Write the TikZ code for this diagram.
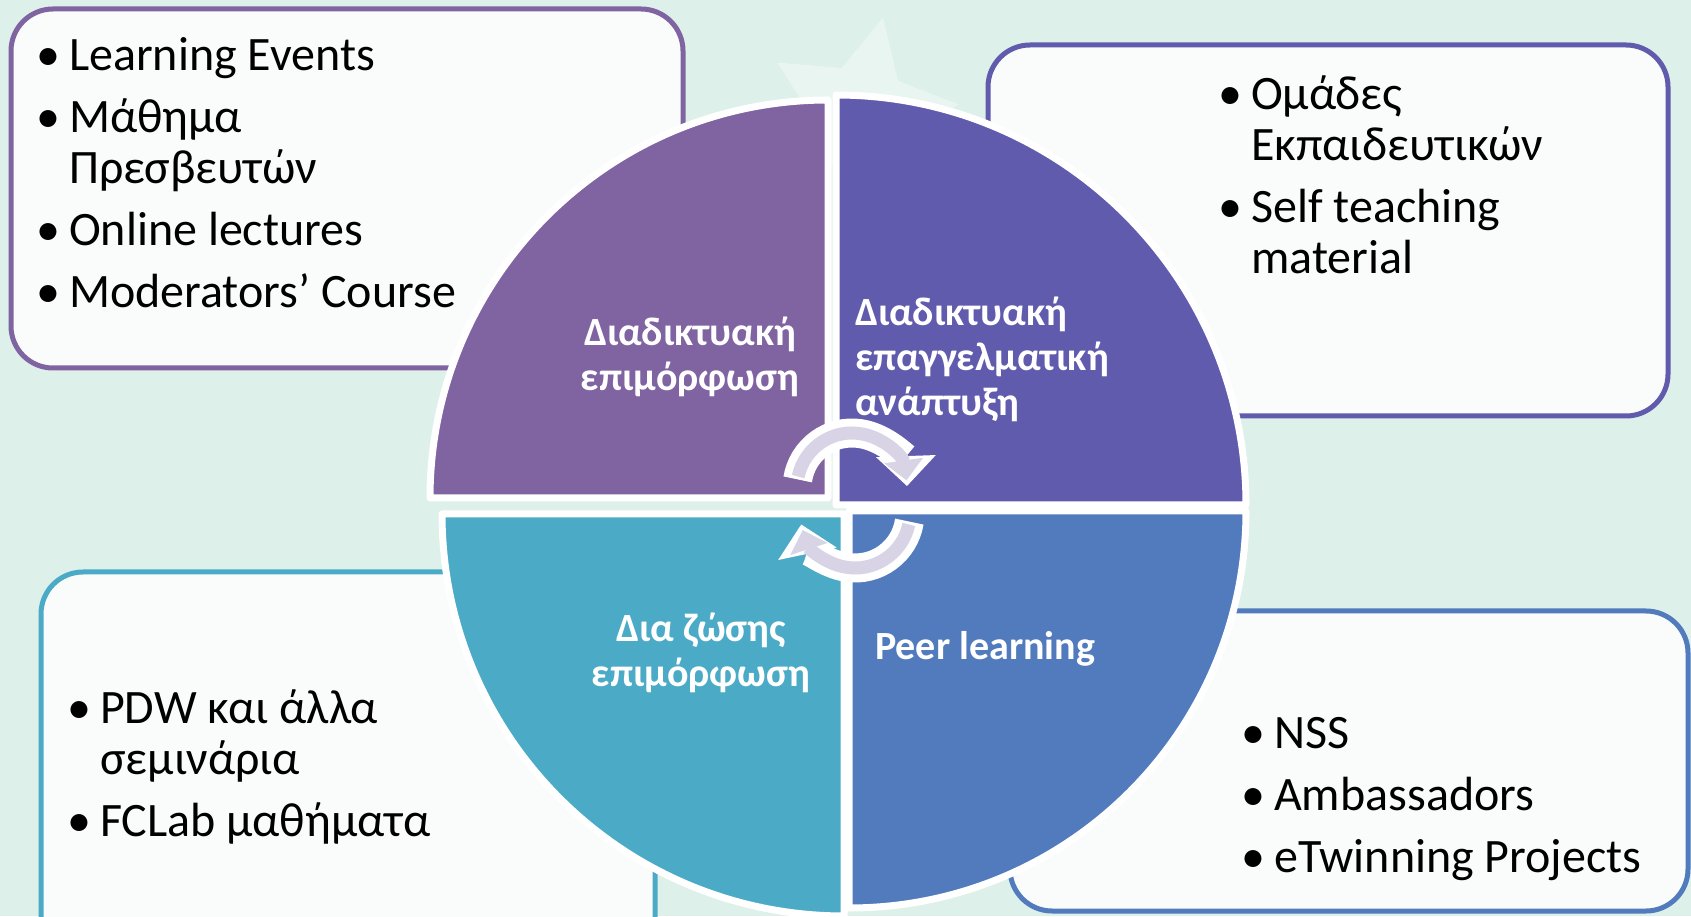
\documentclass[tikz,border=0pt]{standalone}
\usepackage{fontspec}
\setmainfont{Carlito}
\usetikzlibrary{arrows.meta,shapes.geometric}

\definecolor{bgmint}{RGB}{221,240,233}
\definecolor{starmint}{RGB}{232,245,241}
\definecolor{qpurple}{RGB}{128,100,162}
\definecolor{qindigo}{RGB}{96,91,173}
\definecolor{qteal}{RGB}{75,171,198}
\definecolor{qblue}{RGB}{81,123,188}
\definecolor{boxfill}{RGB}{250,252,251}
\definecolor{lavender}{RGB}{216,212,230}

\newcommand{\itm}{\makebox[33pt][l]{\textbullet}}

\begin{document}
\begin{tikzpicture}[x=1pt,y=1pt,
  box/.style={line width=5pt,rounded corners=42pt,fill=boxfill},
  quad/.style={draw=white,line width=7pt,line join=round},
  list/.style={anchor=base west,inner sep=0pt,font=\fontsize{48}{51}\selectfont},
  lbl/.style={inner sep=0pt,text=white,font=\fontsize{40}{45}\selectfont\bfseries},
  outer/.style={white,line width=29pt,-{Triangle[length=30pt,width=58pt]}},
  inner/.style={lavender,line width=13pt,-{Triangle[length=20pt,width=38pt]}}]
  \useasboundingbox (0,0) rectangle (1691,916);
  \fill[bgmint] (0,0) rectangle (1691,916);
  \clip (0,0) rectangle (1691,916);
  \node[star,star points=5,star point ratio=2,minimum size=196pt,inner sep=0pt,
        rotate=-13,fill=starmint] (bgstar) at (861,803) {};

  % boxes
  \draw[box,draw=qpurple] (11,548) rectangle (683,907);
  \draw[box,draw=qindigo] (988,500) rectangle (1668,871);
  \draw[box,draw=qteal] (41,-60) rectangle (655,344);
  \draw[box,draw=qblue] (1010,5) rectangle (1688,305);

  \node[list] (online) at (36,845) {\begin{tabular}[t]{@{}l@{}l@{}}
    \itm & Learning Events\\[11pt]
    \itm & Μάθημα\\
         & Πρεσβευτών\\[11pt]
    \itm & Online lectures\\[11pt]
    \itm & Moderators’ Course
  \end{tabular}};
  \node[list] (groups) at (1218,806) {\begin{tabular}[t]{@{}l@{}l@{}}
    \itm & Ομάδες\\
         & Εκπαιδευτικών\\[11pt]
    \itm & Self teaching\\
         & material
  \end{tabular}};
  \node[list] (seminars) at (67,193) {\begin{tabular}[t]{@{}l@{}l@{}}
    \itm & PDW και άλλα\\
         & σεμινάρια\\[11pt]
    \itm & FCLab μαθήματα
  \end{tabular}};
  \node[list] (nss) at (1241,168) {\begin{tabular}[t]{@{}l@{}l@{}}
    \itm & NSS\\[11pt]
    \itm & Ambassadors\\[11pt]
    \itm & eTwinning Projects
  \end{tabular}};

  % quarter circles
  \draw[quad,fill=qpurple] (828,418) -- ++(-398,0) arc[start angle=180,end angle=90,radius=398] -- cycle;
  \draw[quad,fill=qindigo] (836,411) -- ++(0,410) arc[start angle=90,end angle=0,radius=410] -- cycle;
  \draw[quad,fill=qteal] (844,402) -- ++(-402,0) arc[start angle=180,end angle=270,radius=402] -- cycle;
  \draw[quad,fill=qblue] (849,405) -- ++(397,0) arc[start angle=0,end angle=-90,radius=397] -- cycle;

  \node[lbl,align=center] (elearn) at (690,559) {Διαδικτυακή\\επιμόρφωση};
  \node[lbl,align=left,anchor=west] (prodev) at (855,557) {Διαδικτυακή\\επαγγελματική\\ανάπτυξη};
  \node[lbl,align=center] (live) at (701,263) {Δια ζώσης\\επιμόρφωση};
  \node[lbl,anchor=west] (peer) at (875,267) {Peer learning};

  % cycle arrows
  \draw[outer] (852,428) ++(171:55) arc[start angle=171,end angle=2,radius=55];
  \draw[inner] (852,428) ++(168:55) arc[start angle=168,end angle=8,radius=55];
  \draw[outer] (855,403) ++(-9:55) arc[start angle=-9,end angle=-168,radius=55];
  \draw[inner] (855,403) ++(-12:55) arc[start angle=-12,end angle=-162,radius=55];
\end{tikzpicture}
\end{document}
